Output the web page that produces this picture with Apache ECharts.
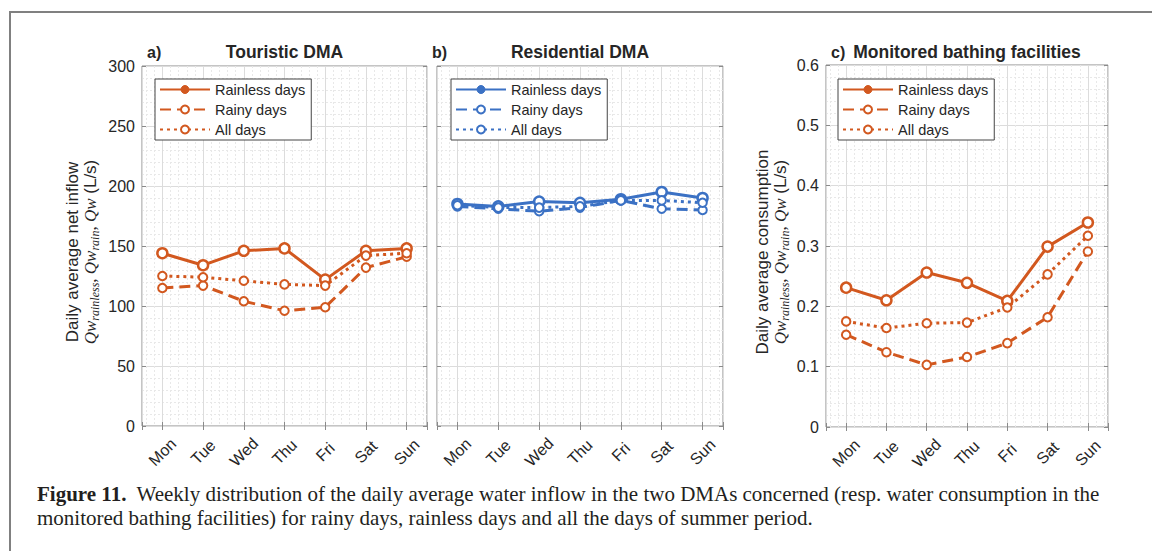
<!DOCTYPE html>
<html>
<head>
<meta charset="utf-8">
<script src="https://cdn.jsdelivr.net/npm/echarts@6/dist/echarts.min.js"></script>
<style>html,body{margin:0;padding:0;background:#fff;}#c{width:1152px;height:551px;}</style>
</head>
<body>
<div id="c"></div>
<script>
var days = ['Mon','Tue','Wed','Thu','Fri','Sat','Sun'];
var seriesNames = ['Rainless days','Rainy days','All days'];
var touristicRainless = [144, 134, 146, 148, 122, 146, 148];
var touristicRainy    = [115, 117, 104, 96, 99, 132, 141];
var touristicAll      = [125, 124, 121, 118, 117, 142, 144];
var residentialRainless = [185, 183, 187, 186, 189, 195, 190];
var residentialRainy    = [183, 181, 179, 182, 188, 181, 180];
var residentialAll      = [184, 182, 182, 183, 188, 188, 186];
var bathingRainless = [0.231, 0.210, 0.256, 0.239, 0.209, 0.299, 0.339];
var bathingRainy    = [0.153, 0.124, 0.103, 0.116, 0.139, 0.182, 0.291];
var bathingAll      = [0.175, 0.164, 0.172, 0.173, 0.198, 0.253, 0.317];
var panelTitles = ['Touristic DMA','Residential DMA','Monitored bathing facilities'];
var panelLetters = ['a)','b)','c)'];
var yLabels = ['Daily average net inflow','Daily average consumption'];
var captionLine1 = 'Weekly distribution of the daily average water inflow in the two DMAs concerned (resp. water consumption in the';
var captionLine2 = 'monitored bathing facilities) for rainy days, rainless days and all the days of summer period.';

var ORANGE = '#D2581F', BLUE = '#3B71C4';
var TXT = '#262626';
var grids = [
  {left:142, top:66, width:285, height:360},
  {left:437, top:66, width:286, height:360},
  {left:826, top:65, width:282, height:362}
];
var yRanges = [[0,300,50],[0,300,50],[0,0.6,0.1]];
var colors = [ORANGE, BLUE, ORANGE];
var panelData = [
  [touristicRainless, touristicRainy, touristicAll],
  [residentialRainless, residentialRainy, residentialAll],
  [bathingRainless, bathingRainy, bathingAll]
];
var lineTypes = ['solid', [11,6], [3,4]];
var symSizes = [10, 8.5, 8.5];

function zw(n){ var s=''; for(var i=0;i<n;i++) s+='\u200b'; return s; }

var xAxes = [], yAxes = [], series = [], legends = [];
var legendPos = [{left:155, top:79}, {left:451, top:79}, {left:838, top:79}];

grids.forEach(function(g, gi){
  var tickStyle = {show:true, inside:true, length:4, lineStyle:{color:'#8a8a8a'}};
  xAxes.push({
    type:'value', gridIndex:gi, position:'bottom', min:0.5, max:7.5, splitNumber:7,
    axisLine:{show:false}, axisTick:tickStyle,
    axisLabel:{show:true, rotate:45, align:'center', verticalAlign:'middle', margin:26, fontSize:16, color:TXT, fontFamily:'Liberation Sans',
      formatter:function(v){ var i=Math.round(v); return (Math.abs(v-i)<1e-6 && i>=1 && i<=7) ? days[i-1] : ''; }},
    splitLine:{show:true, lineStyle:{color:'#dcdcdc', width:1}},
    minorTick:{show:false, splitNumber:5},
    minorSplitLine:{show:true, lineStyle:{color:'#e8e8e8', width:1, type:[2,2]}}
  });
  xAxes.push({
    type:'value', gridIndex:gi, position:'top', min:0.5, max:7.5, splitNumber:7,
    axisLine:{show:false}, axisTick:tickStyle, axisLabel:{show:false}, splitLine:{show:false}
  });
  var r = yRanges[gi];
  yAxes.push({
    type:'value', gridIndex:gi, position:'left', min:r[0], max:r[1], interval:r[2],
    axisLine:{show:false}, axisTick:tickStyle,
    axisLabel:{show: gi!==1, margin:7, fontSize:16, color:TXT, fontFamily:'Liberation Sans'},
    splitLine:{show:true, lineStyle:{color:'#dcdcdc', width:1}},
    minorTick:{show:false, splitNumber:5},
    minorSplitLine:{show:true, lineStyle:{color:'#e8e8e8', width:1, type:[2,2]}}
  });
  yAxes.push({
    type:'value', gridIndex:gi, position:'right', min:r[0], max:r[1], interval:r[2],
    axisLine:{show:false}, axisTick:tickStyle, axisLabel:{show:false}, splitLine:{show:false}
  });
  var legendData = [];
  panelData[gi].forEach(function(vals, si){
    var nm = seriesNames[si] + zw(gi);
    if (si === 0) {
      legendData.push({name:nm, itemStyle:{color:colors[gi], borderColor:colors[gi], borderWidth:1}});
    } else {
      legendData.push({name:nm});
    }
    series.push({
      name:nm, type:'line', xAxisIndex:gi*2, yAxisIndex:gi*2,
      data: vals.map(function(v,i){ return [i+1, v]; }),
      symbol: si === 0 ? 'circle' : 'emptyCircle', symbolSize:symSizes[si], showSymbol:true,
      itemStyle: si === 0 ? {color:'#fff', borderColor:colors[gi], borderWidth:2.5} : {color:colors[gi], borderWidth:2.5},
      lineStyle:{color:colors[gi], width:3, type:lineTypes[si]},
      emphasis:{disabled:true}, animation:false, z:3+si
    });
  });
  legends.push({
    data:legendData, orient:'vertical', left:legendPos[gi].left, top:legendPos[gi].top,
    itemWidth:50, itemHeight:10, itemGap:5, padding:[3,6,3,4],
    borderColor:'#444', borderWidth:1, backgroundColor:'#fff',
    textStyle:{fontSize:14.5, color:TXT, fontFamily:'Liberation Sans'},
    formatter:function(n){ return n.replace(/\u200b/g,''); },
    selectedMode:false
  });
});

var graphics = [
  {type:'rect', shape:{x:10, y:12, width:1170, height:580}, style:{fill:'none', stroke:'#808080', lineWidth:2}, silent:true, z:0}
];
grids.forEach(function(g, gi){
  var cx = g.left + g.width/2;
  graphics.push({type:'text', x: g.left + (gi===1? -5 : 5), y:52, style:{text:panelLetters[gi], fontSize:16, fontWeight:'bold', fill:TXT, fontFamily:'Liberation Sans', align:'left', verticalAlign:'middle'}});
  graphics.push({type:'text', x: cx, y:52, style:{text:panelTitles[gi], fontSize:17.5, fontWeight:'bold', fill:TXT, fontFamily:'Liberation Sans', align:'center', verticalAlign:'middle'}});
});
var yLabelX = [[72, 90], null, [762, 780]];
[0,2].forEach(function(gi, k){
  var cy = 252;
  graphics.push({type:'text', x:yLabelX[gi][0], y:cy, rotation:Math.PI/2,
    style:{text:yLabels[k], fontSize:17, fill:TXT, fontFamily:'Liberation Sans', align:'center', verticalAlign:'middle'}});
  graphics.push({type:'text', x:yLabelX[gi][1], y:cy, rotation:Math.PI/2,
    style:{text:'{q|Qw}{s|rainless}{c|, }{q|Qw}{s|rain}{c|, }{q|Qw}{n| (L/s)}', align:'center', verticalAlign:'middle', fill:TXT,
      rich:{
        q:{fontSize:17, fontStyle:'italic', fontFamily:'Liberation Serif', fill:TXT, lineHeight:22, verticalAlign:'middle'},
        s:{fontSize:12, fontStyle:'italic', fontFamily:'Liberation Serif', fill:TXT, lineHeight:22, verticalAlign:'bottom'},
        c:{fontSize:17, fontFamily:'Liberation Serif', fill:TXT, lineHeight:22, verticalAlign:'middle'},
        n:{fontSize:17, fontFamily:'Liberation Sans', fill:TXT, lineHeight:22, verticalAlign:'middle'}
      }}});
});
graphics.push({type:'text', x:37, y:494, style:{text:'{b|Figure 11.}  ' + captionLine1, fontSize:21, fontFamily:'Liberation Serif', fill:'#231f20', align:'left', verticalAlign:'middle',
  rich:{b:{fontSize:21, fontWeight:'bold', fontFamily:'Liberation Serif', fill:'#231f20'}}}});
graphics.push({type:'text', x:37, y:518, style:{text:captionLine2, fontSize:21, fontFamily:'Liberation Serif', fill:'#231f20', align:'left', verticalAlign:'middle'}});

var option = {
  backgroundColor:'#fff',
  animation:false,
  grid: grids.map(function(g){ return {left:g.left, top:g.top, width:g.width, height:g.height, show:true, borderColor:'#8a8a8a', borderWidth:1, backgroundColor:'transparent', containLabel:false}; }),
  xAxis:xAxes, yAxis:yAxes, series:series, legend:legends, graphic:graphics
};
var chart = echarts.init(document.getElementById('c'), null, {renderer:'svg'});
chart.setOption(option);
</script>
</body>
</html>
